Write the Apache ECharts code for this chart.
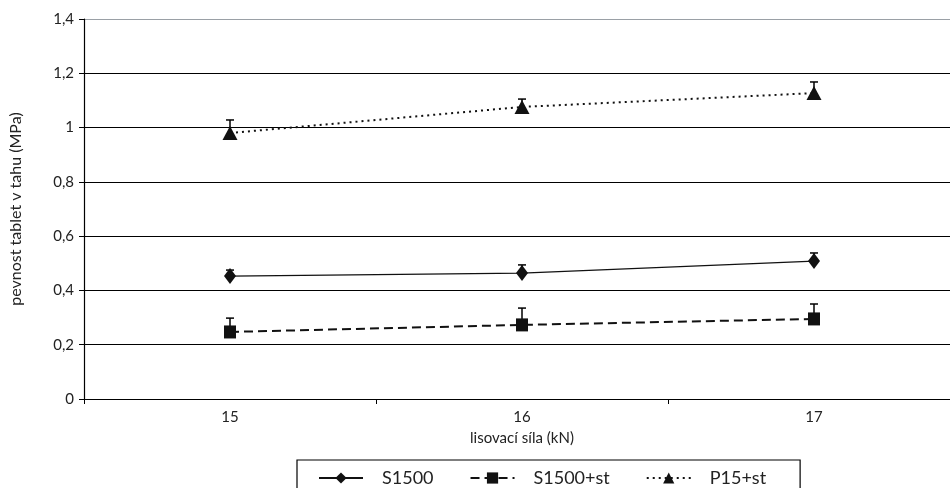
<!DOCTYPE html>
<html><head><meta charset="utf-8">
<script src="https://cdn.jsdelivr.net/npm/echarts@6/dist/echarts.min.js"></script>
<style>html,body{margin:0;padding:0;background:#fff}#c{width:950px;height:488px}</style>
</head><body><div id="c"></div>
<script>
var categories = ['15', '16', '17'];
var s1500 = [0.453, 0.464, 0.508];
var s1500Err = [0.022, 0.030, 0.030];
var s1500st = [0.247, 0.273, 0.295];
var s1500stErr = [0.051, 0.062, 0.055];
var p15st = [0.980, 1.076, 1.127];
var p15stErr = [0.048, 0.029, 0.041];
var yTicks = [0, 0.2, 0.4, 0.6, 0.8, 1.0, 1.2, 1.4];

var font = 'Lato, Open Sans, sans-serif';

function errSeries(name, vals, errs) {
  return {
    type: 'custom', name: name + ' err', silent: true, z: 1,
    data: vals.map(function (v, i) { return [i, v, v + errs[i]]; }),
    renderItem: function (params, api) {
      var p0 = api.coord([api.value(0), api.value(1)]);
      var p1 = api.coord([api.value(0), api.value(2)]);
      var st = { stroke: '#000', lineWidth: 1.5 };
      return { type: 'group', children: [
        { type: 'line', shape: { x1: p0[0], y1: p0[1], x2: p1[0], y2: p1[1] }, style: st },
        { type: 'line', shape: { x1: p1[0] - 4, y1: p1[1], x2: p1[0] + 4, y2: p1[1] }, style: st }
      ]};
    }
  };
}

var chart = echarts.init(document.getElementById('c'));
chart.setOption({
  animation: false,
  textStyle: { fontFamily: font },
  grid: { left: 84, width: 876, top: 19, height: 380, outerBoundsMode: 'none', containLabel: false },
  legend: {
    data: ['S1500', 'S1500+st', 'P15+st'],
    left: 297, top: 460,
    borderColor: '#000', borderWidth: 1.2,
    padding: [9, 34, 12, 21],
    itemWidth: 44, itemHeight: 14, itemGap: 36,
    textStyle: { fontSize: 18, color: '#222', fontFamily: font, padding: [0, 0, 0, 14] }
  },
  xAxis: {
    type: 'category', data: categories,
    boundaryGap: true,
    name: 'lisovací síla (kN)', nameLocation: 'middle', nameGap: 32,
    nameTextStyle: { fontSize: 15, color: '#222' },
    axisLine: { lineStyle: { color: '#000', width: 1.2 } },
    axisTick: { show: true, length: 5, lineStyle: { color: '#000' } },
    axisLabel: { fontSize: 15, color: '#222', margin: 11 },
    splitLine: { show: false }
  },
  yAxis: {
    type: 'value', min: 0, max: 1.4, interval: 0.2,
    name: 'pevnost tablet v tahu (MPa)', nameLocation: 'middle', nameGap: 60,
    nameTextStyle: { fontSize: 16, color: '#222' },
    axisLine: { show: true, lineStyle: { color: '#000', width: 1.2 } },
    axisTick: { show: true, length: 5, lineStyle: { color: '#000' } },
    axisLabel: { fontSize: 15, color: '#222', margin: 10,
      formatter: function (v) {
        var r = Math.round(v * 10) / 10;
        return String(r).replace('.', ',');
      } },
    splitLine: { show: true, lineStyle: { color: ['#000', '#000', '#000', '#000', '#000', '#000', '#000', '#9aa0a6'], width: 1.2 } }
  },
  series: [
    errSeries('S1500', s1500, s1500Err),
    errSeries('S1500+st', s1500st, s1500stErr),
    errSeries('P15+st', p15st, p15stErr),
    {
      name: 'S1500', type: 'line', data: s1500, z: 3,
      symbol: 'diamond', symbolSize: [12, 16],
      itemStyle: { color: '#111' },
      lineStyle: { color: '#111', width: 1.3, type: 'solid' }
    },
    {
      name: 'S1500+st', type: 'line', data: s1500st, z: 3,
      symbol: 'rect', symbolSize: [12, 13],
      itemStyle: { color: '#111' },
      lineStyle: { color: '#111', width: 2, type: [9, 5] }
    },
    {
      name: 'P15+st', type: 'line', data: p15st, z: 3,
      symbol: 'triangle', symbolSize: [15, 14],
      itemStyle: { color: '#111' },
      lineStyle: { color: '#111', width: 2, type: [2, 4] }
    }
  ]
});
</script></body></html>
